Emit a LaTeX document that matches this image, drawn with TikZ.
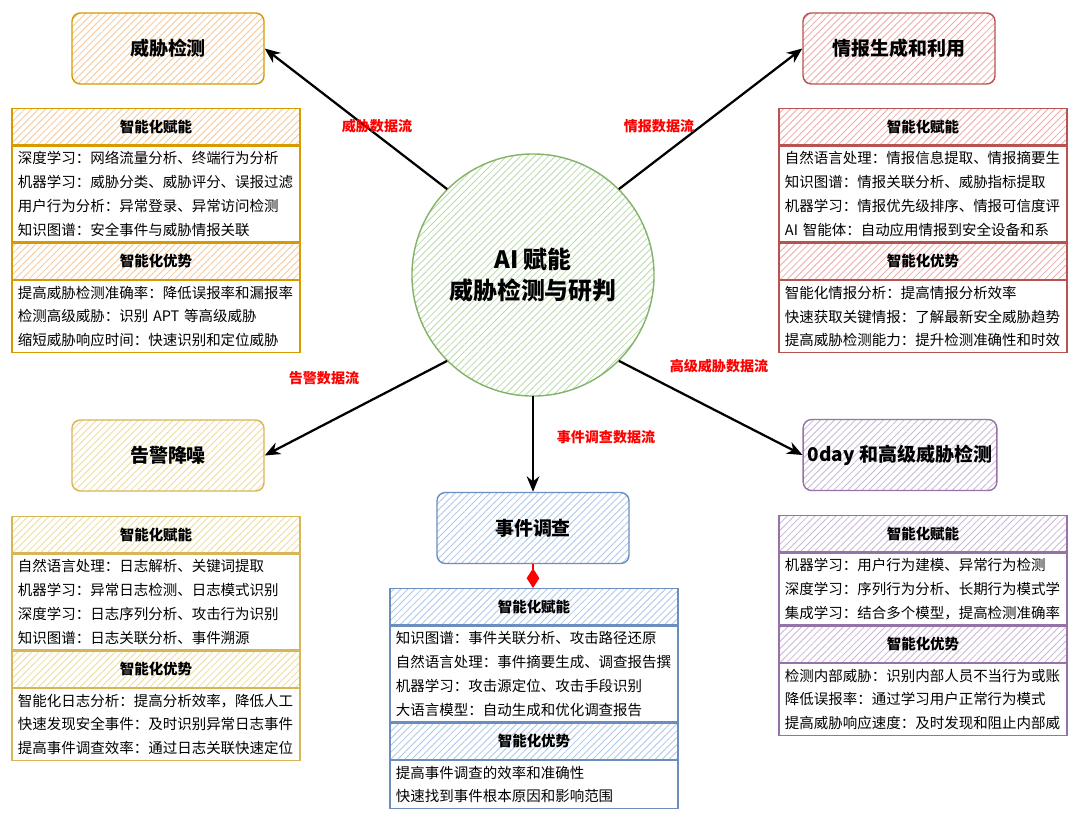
\documentclass[tikz,border=0pt]{standalone}
\usepackage{fontspec}
\setmainfont{Noto Sans CJK SC}
\usetikzlibrary{arrows.meta, positioning, patterns.meta}

\definecolor{orgLine}{HTML}{D79B00}
\definecolor{orgHatch}{HTML}{F6C89A}
\definecolor{yelLine}{HTML}{D6B656}
\definecolor{yelHatch}{HTML}{EEDC9C}
\definecolor{redLine}{HTML}{B85450}
\definecolor{redHatch}{HTML}{EFAAA8}
\definecolor{bluLine}{HTML}{6C8EBF}
\definecolor{bluHatch}{HTML}{AEC7EC}
\definecolor{purLine}{HTML}{9673A6}
\definecolor{purHatch}{HTML}{CBB7D8}
\definecolor{grnLine}{HTML}{82B366}
\definecolor{grnHatch}{HTML}{BCDBAC}
\definecolor{flowRed}{HTML}{FF0000}

\begin{document}
\begin{tikzpicture}[
        x=0.025cm, y=-0.025cm,
        font=\fontsize{10.3pt}{17pt}\selectfont,
        >={Stealth[length=11pt, width=9pt]},
        title/.style 2 args={
            draw=#1,
            line width=1pt,
            rounded corners=6pt,
            pattern={Lines[angle=45, distance=3.5pt, line width=0.6pt]},
            pattern color=#2,
            minimum width=4.8cm,
            minimum height=1.775cm,
            font=\fontsize{13.5pt}{16pt}\selectfont\bfseries
        },
        hd/.style 2 args={
            draw=#1,
            line width=0.9pt,
            pattern={Lines[angle=45, distance=3.5pt, line width=0.6pt]},
            pattern color=#2,
            minimum width=7.2cm,
            minimum height=0.9cm,
            font=\fontsize{10.3pt}{12pt}\selectfont\bfseries,
            anchor=north
        },
        bd/.style 2 args={
            draw=#1,
            line width=0.9pt,
            fill=white,
            text width=6.9cm,
            inner xsep=0.15cm,
            inner ysep=0pt,
            minimum height=#2*0.6cm,
            align=left,
            anchor=north
        },
        flow/.style={
            text=flowRed,
            font=\fontsize{10pt}{12pt}\selectfont\bfseries
        },
        link/.style={->, line width=1.6pt, black}
    ]

        \fill[white] (0,0) rectangle (1080,816);

        % centre
        \node[circle, draw=grnLine, line width=1pt,
              pattern={Lines[angle=45, distance=3.5pt, line width=0.6pt]},
              pattern color=grnHatch, minimum size=6.05cm, align=center,
              font=\fontsize{17pt}{22pt}\selectfont\bfseries] (core) at (533,275)
              {AI 赋能\\威胁检测与研判};

        % title boxes
        \node[title={orgLine}{orgHatch}] (threat) at (168,48.5) {威胁检测};
        \node[title={redLine}{redHatch}] (intel) at (899,48.5) {情报生成和利用};
        \node[title={yelLine}{yelHatch}] (alert) at (168,455.5) {告警降噪};
        \node[title={purLine}{purHatch}] (zeroday) at (900,455) {0day 和高级威胁检测};
        \node[title={bluLine}{bluHatch}] (event) at (533,528) {事件调查};

        % threat table
        \node[hd={orgLine}{orgHatch}] (threatA) at (156,108) {智能化赋能};
        \node[bd={orgLine}{4}, below=0pt of threatA] (threatAb) {%
            深度学习：网络流量分析、终端行为分析\\
            机器学习：威胁分类、威胁评分、误报过滤\\
            用户行为分析：异常登录、异常访问检测\\
            知识图谱：安全事件与威胁情报关联};
        \node[hd={orgLine}{orgHatch}, below=0pt of threatAb] (threatB) {智能化优势};
        \node[bd={orgLine}{3}, below=0pt of threatB] (threatBb) {%
            提高威胁检测准确率：降低误报率和漏报率\\
            检测高级威胁：识别 APT 等高级威胁\\
            缩短威胁响应时间：快速识别和定位威胁};

        % intel table
        \node[hd={redLine}{redHatch}] (intelA) at (923,108) {智能化赋能};
        \node[bd={redLine}{4}, below=0pt of intelA] (intelAb) {%
            自然语言处理：情报信息提取、情报摘要生\\
            知识图谱：情报关联分析、威胁指标提取\\
            机器学习：情报优先级排序、情报可信度评\\
            AI 智能体：自动应用情报到安全设备和系};
        \node[hd={redLine}{redHatch}, below=0pt of intelAb] (intelB) {智能化优势};
        \node[bd={redLine}{3}, below=0pt of intelB] (intelBb) {%
            智能化情报分析：提高情报分析效率\\
            快速获取关键情报：了解最新安全威胁趋势\\
            提高威胁检测能力：提升检测准确性和时效};

        % alert table
        \node[hd={yelLine}{yelHatch}] (alertA) at (156,516) {智能化赋能};
        \node[bd={yelLine}{4}, below=0pt of alertA] (alertAb) {%
            自然语言处理：日志解析、关键词提取\\
            机器学习：异常日志检测、日志模式识别\\
            深度学习：日志序列分析、攻击行为识别\\
            知识图谱：日志关联分析、事件溯源};
        \node[hd={yelLine}{yelHatch}, below=0pt of alertAb] (alertB) {智能化优势};
        \node[bd={yelLine}{3}, below=0pt of alertB] (alertBb) {%
            智能化日志分析：提高分析效率，降低人工\\
            快速发现安全事件：及时识别异常日志事件\\
            提高事件调查效率：通过日志关联快速定位};

        % event table
        \node[hd={bluLine}{bluHatch}] (eventA) at (534,588) {智能化赋能};
        \node[bd={bluLine}{4}, below=0pt of eventA] (eventAb) {%
            知识图谱：事件关联分析、攻击路径还原\\
            自然语言处理：事件摘要生成、调查报告撰\\
            机器学习：攻击源定位、攻击手段识别\\
            大语言模型：自动生成和优化调查报告};
        \node[hd={bluLine}{bluHatch}, below=0pt of eventAb] (eventB) {智能化优势};
        \node[bd={bluLine}{2}, below=0pt of eventB] (eventBb) {%
            提高事件调查的效率和准确性\\
            快速找到事件根本原因和影响范围};

        % zeroday table
        \node[hd={purLine}{purHatch}] (zerodayA) at (923,515) {智能化赋能};
        \node[bd={purLine}{3}, below=0pt of zerodayA] (zerodayAb) {%
            机器学习：用户行为建模、异常行为检测\\
            深度学习：序列行为分析、长期行为模式学\\
            集成学习：结合多个模型，提高检测准确率};
        \node[hd={purLine}{purHatch}, below=0pt of zerodayAb] (zerodayB) {智能化优势};
        \node[bd={purLine}{3}, below=0pt of zerodayB] (zerodayBb) {%
            检测内部威胁：识别内部人员不当行为或账\\
            降低误报率：通过学习用户正常行为模式\\
            提高威胁响应速度：及时发现和阻止内部威};

        % data flows
        \draw[link] (core.north west) -- (threat.east);
        \draw[link] (core.north east) -- (intel.west);
        \draw[link] (core.south west) -- (alert.east);
        \draw[link] (core.south east) -- (zeroday.west);
        \draw[link] (core.south) -- (event.north);
        \draw[flowRed, line width=0.8pt, -{Diamond[length=14pt, width=9pt, fill=flowRed]}]
            (event.south) -- (event.south |- eventA.north);

        \node[flow] (threatFlow) at (377,126) {威胁数据流};
        \node[flow] (intelFlow) at (659,126) {情报数据流};
        \node[flow] (alertFlow) at (324,378) {告警数据流};
        \node[flow] (eventFlow) at (606,437) {事件调查数据流};
        \node[flow] (zerodayFlow) at (719,366) {高级威胁数据流};

    \end{tikzpicture}
\end{document}
